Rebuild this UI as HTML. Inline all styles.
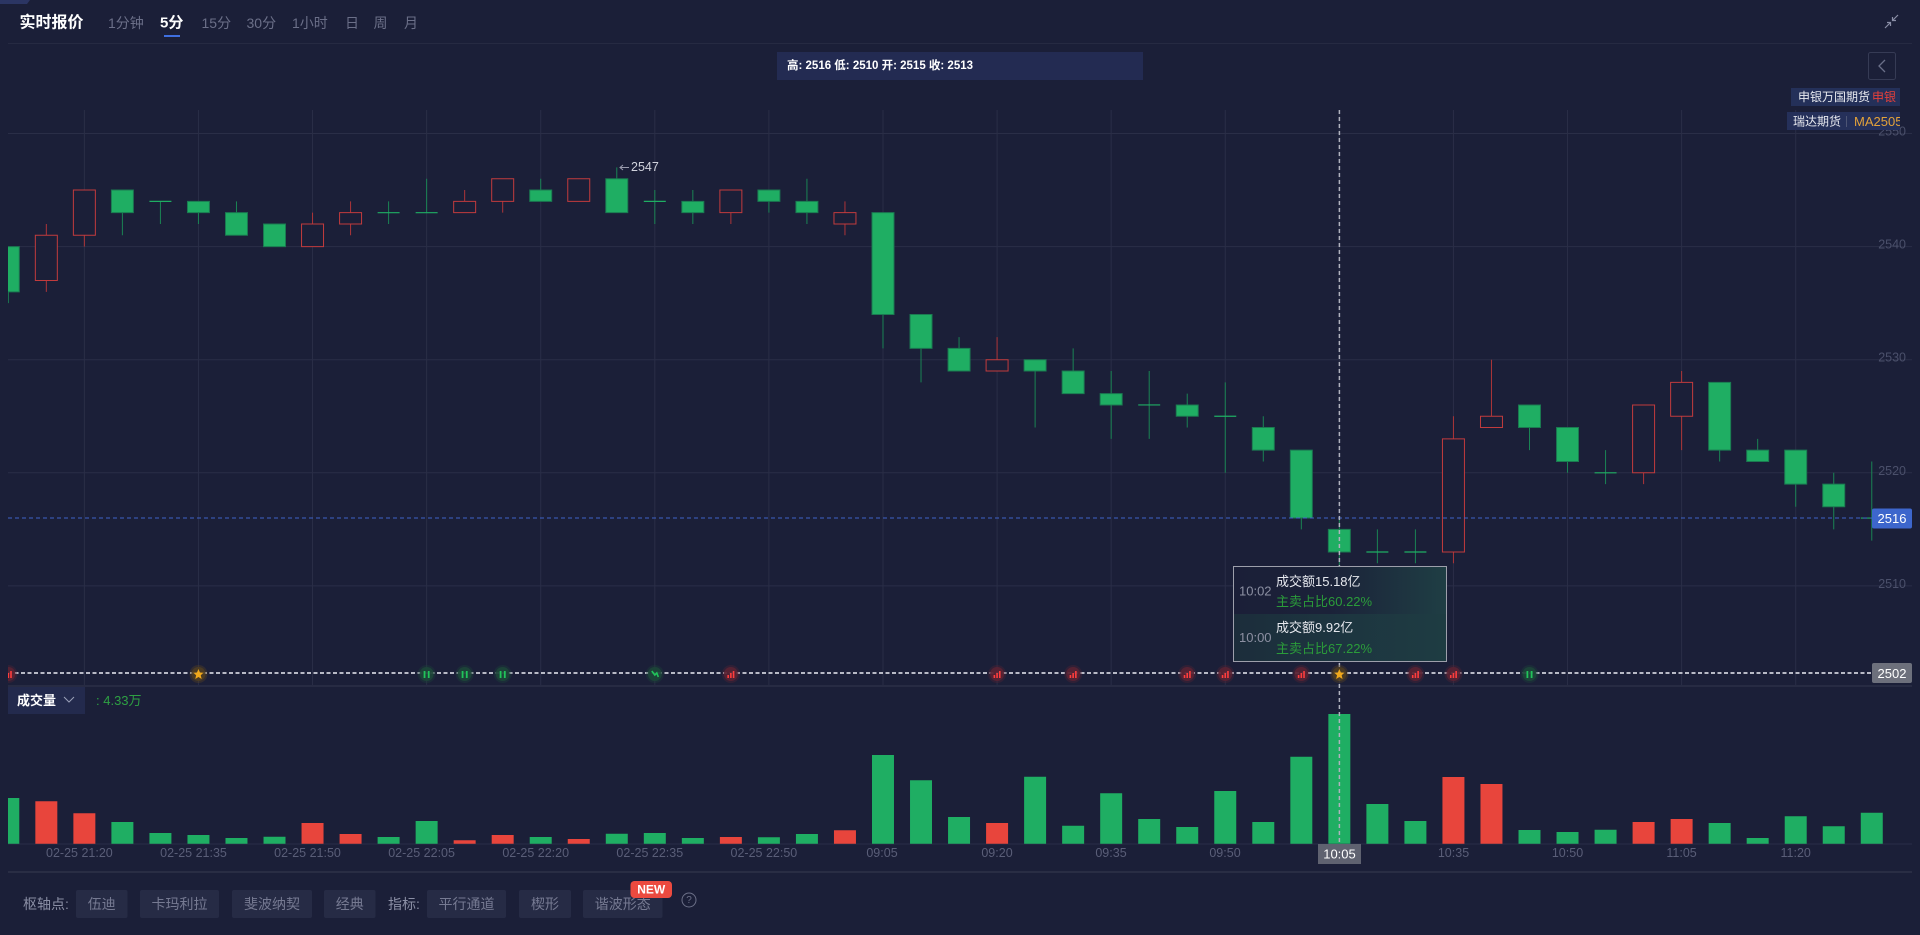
<!DOCTYPE html>
<html><head><meta charset="utf-8">
<style>
html,body{margin:0;padding:0;background:#1b1f38;width:1920px;height:935px;overflow:hidden}
svg{display:block}
text{font-family:"Liberation Sans","Noto Sans CJK SC",sans-serif}
</style></head><body>
<svg width="1920" height="935" viewBox="0 0 1920 935" xmlns="http://www.w3.org/2000/svg">
<defs>
<clipPath id="chart"><rect x="8" y="100" width="1904" height="760"/></clipPath>
<clipPath id="lbl"><rect x="1700" y="80" width="200" height="60"/></clipPath>
<linearGradient id="tt1" x1="0" x2="1" y1="0" y2="0"><stop offset="0" stop-color="#1b1f38"/><stop offset="0.45" stop-color="#1b2239"/><stop offset="1" stop-color="#1f3e44"/></linearGradient>
<linearGradient id="tt2" x1="0" x2="1" y1="0" y2="0"><stop offset="0" stop-color="#1c2d3b"/><stop offset="0.5" stop-color="#1d3540"/><stop offset="1" stop-color="#1e3c42"/></linearGradient>
</defs>
<rect width="1920" height="935" fill="#1b1f38"/>

<!-- top bar -->
<polygon points="0,0 30,0 27,4 0,4" fill="#2b3563"/>
<text x="19.5" y="23" dominant-baseline="central" font-size="16" font-weight="bold" fill="#ffffff">实时报价</text>
<g font-size="14" fill="#6b6f88" dominant-baseline="central">
<text x="108" y="23">1分钟</text>
<text x="201.5" y="23">15分</text>
<text x="246.5" y="23">30分</text>
<text x="292" y="23">1小时</text>
<text x="345" y="23">日</text>
<text x="373.5" y="23">周</text>
<text x="404" y="23">月</text>
</g>
<text x="160" y="23" dominant-baseline="central" font-size="15" font-weight="bold" fill="#ffffff">5分</text>
<rect x="164" y="35" width="16" height="2" fill="#3f6fe0"/>
<line x1="8" y1="43.5" x2="1912" y2="43.5" stroke="#262a42" stroke-width="1"/>
<path d="M1898 15 L1892.5 20.5 M1892.5 17 V20.5 H1896 M1885 28 L1890.5 22.5 M1887 22.5 H1890.5 V26" stroke="#8a8ea6" stroke-width="1.2" fill="none"/>

<!-- info box -->
<rect x="777" y="52" width="366" height="28" fill="#232b52"/>
<text x="787" y="66" dominant-baseline="central" font-size="11.5" font-weight="bold" fill="#ffffff">高: 2516 低: 2510 开: 2515 收: 2513</text>

<!-- back button -->
<rect x="1868.5" y="52.5" width="27" height="27" rx="2" fill="none" stroke="#363b55"/>
<path d="M1885 60 L1879 66 L1885 72" stroke="#6a6f88" stroke-width="1.3" fill="none"/>

<!-- gridlines -->
<g stroke="#2a2e47" stroke-width="1">
<line x1="8" y1="133.5" x2="1912" y2="133.5"/>
<line x1="8" y1="246.6" x2="1912" y2="246.6"/>
<line x1="8" y1="359.7" x2="1912" y2="359.7"/>
<line x1="8" y1="472.8" x2="1912" y2="472.8"/>
<line x1="8" y1="585.9" x2="1912" y2="585.9"/>
<path d="M84.36 110V686 M198.45 110V686 M312.54 110V686 M426.63 110V686 M540.72 110V686 M654.81 110V686 M768.9 110V686 M882.99 110V686 M997.08 110V686 M1111.17 110V686 M1225.26 110V686 M1339.35 110V686 M1453.44 110V686 M1567.53 110V686 M1681.62 110V686 M1795.71 110V686"/>
</g>
<line x1="8" y1="686" x2="1912" y2="686" stroke="#272b43" stroke-width="2"/>
<line x1="8" y1="844" x2="1912" y2="844" stroke="#2a2e47" stroke-width="1"/>
<line x1="8" y1="872" x2="1912" y2="872" stroke="#2e3248" stroke-width="1.5"/>

<!-- axis labels -->
<g font-size="12.5" fill="#4b506b" text-anchor="end">
<text x="1906" y="135.5">2550</text>
<text x="1906" y="248.6">2540</text>
<text x="1906" y="361.7">2530</text>
<text x="1906" y="474.8">2520</text>
<text x="1906" y="587.9">2510</text>
</g>

<!-- candles -->
<g clip-path="url(#chart)">
<g transform="matrix(38.03 0 0 -11.31 -29.73 28974)">
<path vector-effect="non-scaling-stroke" stroke="#1a8454" stroke-width="1" fill="none" d="M1 2535V2540 M4 2541V2545 M5 2542V2544 M6 2542V2544 M7 2541V2544 M8 2540V2542 M11 2542V2544 M12 2543V2546 M15 2544V2546 M17 2543V2547 M18 2542V2545 M19 2542V2545 M21 2543V2545 M22 2542V2546 M24 2531V2543 M25 2528V2534 M26 2529V2532 M28 2524V2530 M29 2527V2531 M30 2523V2529 M31 2523V2529 M32 2524V2527 M33 2520V2528 M34 2521V2525 M35 2515V2522 M36 2510V2516 M37 2512V2515 M38 2512V2515 M41 2522V2526 M42 2520V2524 M43 2519V2522 M46 2521V2528 M47 2521V2523 M48 2517V2522 M49 2515V2520 M50 2514V2521"/>
<path vector-effect="non-scaling-stroke" stroke="#ad3538" stroke-width="1" fill="none" d="M2 2536V2542 M3 2540V2545 M9 2540V2543 M10 2541V2544 M13 2543V2545 M14 2543V2546 M16 2544V2546 M20 2542V2545 M23 2541V2544 M27 2529V2532 M39 2512V2525 M40 2524V2530 M44 2519V2526 M45 2522V2529"/>
<path vector-effect="non-scaling-stroke" stroke="#1b7a51" stroke-width="1" fill="#1fae63" d="M0.711 2536h0.578v4h-0.578z M3.711 2543h0.578v2h-0.578z M5.711 2543h0.578v1h-0.578z M6.711 2541h0.578v2h-0.578z M7.711 2540h0.578v2h-0.578z M14.711 2544h0.578v1h-0.578z M16.711 2543h0.578v3h-0.578z M18.711 2543h0.578v1h-0.578z M20.711 2544h0.578v1h-0.578z M21.711 2543h0.578v1h-0.578z M23.711 2534h0.578v9h-0.578z M24.711 2531h0.578v3h-0.578z M25.711 2529h0.578v2h-0.578z M27.711 2529h0.578v1h-0.578z M28.711 2527h0.578v2h-0.578z M29.711 2526h0.578v1h-0.578z M31.711 2525h0.578v1h-0.578z M33.711 2522h0.578v2h-0.578z M34.711 2516h0.578v6h-0.578z M35.711 2513h0.578v2h-0.578z M40.711 2524h0.578v2h-0.578z M41.711 2521h0.578v3h-0.578z M45.711 2522h0.578v6h-0.578z M46.711 2521h0.578v1h-0.578z M47.711 2519h0.578v3h-0.578z M48.711 2517h0.578v2h-0.578z"/>
<path vector-effect="non-scaling-stroke" stroke="#c23b3d" stroke-width="1" fill="#1b1f38" d="M1.711 2537h0.578v4h-0.578z M2.711 2541h0.578v4h-0.578z M8.711 2540h0.578v2h-0.578z M9.711 2542h0.578v1h-0.578z M12.711 2543h0.578v1h-0.578z M13.711 2544h0.578v2h-0.578z M15.711 2544h0.578v2h-0.578z M19.711 2543h0.578v2h-0.578z M22.711 2542h0.578v1h-0.578z M26.711 2529h0.578v1h-0.578z M38.711 2513h0.578v10h-0.578z M39.711 2524h0.578v1h-0.578z M43.711 2520h0.578v6h-0.578z M44.711 2525h0.578v3h-0.578z"/>
<path vector-effect="non-scaling-stroke" stroke="#1fae63" stroke-width="1.2" fill="none" d="M4.711 2544h0.578 M10.711 2543h0.578 M11.711 2543h0.578 M17.711 2544h0.578 M30.711 2526h0.578 M32.711 2525h0.578 M36.711 2513h0.578 M37.711 2513h0.578 M42.711 2520h0.578 M49.711 2516h0.578"/>
</g>

<!-- volume -->
<g transform="matrix(38.03 0 0 1 -29.73 0)">
<path fill="#1fae63" d="M0.711 798h0.578V843.7h-0.578z M3.711 822h0.578V843.7h-0.578z M4.711 833h0.578V843.7h-0.578z M5.711 835h0.578V843.7h-0.578z M6.711 838h0.578V843.7h-0.578z M7.711 836.7h0.578V843.7h-0.578z M10.711 837h0.578V843.7h-0.578z M11.711 821h0.578V843.7h-0.578z M14.711 837h0.578V843.7h-0.578z M16.711 833.7h0.578V843.7h-0.578z M17.711 833h0.578V843.7h-0.578z M18.711 838h0.578V843.7h-0.578z M20.711 837.3h0.578V843.7h-0.578z M21.711 834h0.578V843.7h-0.578z M23.711 755h0.578V843.7h-0.578z M24.711 780.3h0.578V843.7h-0.578z M25.711 817h0.578V843.7h-0.578z M27.711 776.7h0.578V843.7h-0.578z M28.711 825.7h0.578V843.7h-0.578z M29.711 793.3h0.578V843.7h-0.578z M30.711 819h0.578V843.7h-0.578z M31.711 827h0.578V843.7h-0.578z M32.711 791h0.578V843.7h-0.578z M33.711 822h0.578V843.7h-0.578z M34.711 756.7h0.578V843.7h-0.578z M35.711 714h0.578V843.7h-0.578z M36.711 804h0.578V843.7h-0.578z M37.711 821h0.578V843.7h-0.578z M40.711 830h0.578V843.7h-0.578z M41.711 832h0.578V843.7h-0.578z M42.711 829.7h0.578V843.7h-0.578z M45.711 823h0.578V843.7h-0.578z M46.711 838h0.578V843.7h-0.578z M47.711 816.3h0.578V843.7h-0.578z M48.711 826.3h0.578V843.7h-0.578z M49.711 812.7h0.578V843.7h-0.578z"/>
<path fill="#e8453c" d="M1.711 801.3h0.578V843.7h-0.578z M2.711 813.3h0.578V843.7h-0.578z M8.711 823h0.578V843.7h-0.578z M9.711 834h0.578V843.7h-0.578z M12.711 840.3h0.578V843.7h-0.578z M13.711 835h0.578V843.7h-0.578z M15.711 839h0.578V843.7h-0.578z M19.711 837h0.578V843.7h-0.578z M22.711 830.3h0.578V843.7h-0.578z M26.711 823h0.578V843.7h-0.578z M38.711 777h0.578V843.7h-0.578z M39.711 784h0.578V843.7h-0.578z M43.711 822h0.578V843.7h-0.578z M44.711 819h0.578V843.7h-0.578z"/>
</g>
</g>

<!-- high label -->
<path d="M629 167.5 H620 M623 165 L620 167.5 L623 170" stroke="#9a9cae" stroke-width="1" fill="none"/>
<text x="631" y="167" dominant-baseline="central" font-size="12.5" fill="#d0d2dc">2547</text>

<!-- current price line -->
<line x1="8" y1="518" x2="1872" y2="518" stroke="#3f63c8" stroke-width="1" stroke-dasharray="4 3"/>

<!-- crosshair -->
<line x1="1339.4" y1="110" x2="1339.4" y2="844" stroke="#b0b2be" stroke-width="1.5" stroke-dasharray="4 3"/>
<line x1="8" y1="673" x2="1872" y2="673" stroke="#b8bac6" stroke-width="2" stroke-dasharray="4 2.5"/>

<!-- markers -->
<g clip-path="url(#chart)">
<g transform="translate(8.3,674)"><circle r="9" fill="#5a2233" opacity="0.35"/><circle r="7" fill="#5a2233" opacity="0.9"/><path d="M-3.5 4h1.6v-3h-1.6z M-0.8 4h1.6v-5h-1.6z M1.9 4h1.6v-7h-1.6z" fill="#ff3d3d"/></g>
</g>
<g transform="translate(198.45,674)"><circle r="9" fill="#5e4520" opacity="0.35"/><circle r="7" fill="#4e3d22" opacity="0.9"/><polygon points="0,-5 1.5,-1.5 5,-1.2 2.3,1.2 3.2,5 0,3 -3.2,5 -2.3,1.2 -5,-1.2 -1.5,-1.5" fill="#f0a81c"/></g>
<g transform="translate(426.63,674)"><circle r="9" fill="#1d4638" opacity="0.35"/><circle r="7" fill="#1d4638" opacity="0.9"/><path d="M-3 4h1.8v-7h-1.8z M1.2 4h1.8v-7h-1.8z" fill="#21c45a"/></g>
<g transform="translate(464.66,674)"><circle r="9" fill="#1d4638" opacity="0.35"/><circle r="7" fill="#1d4638" opacity="0.9"/><path d="M-3 4h1.8v-7h-1.8z M1.2 4h1.8v-7h-1.8z" fill="#21c45a"/></g>
<g transform="translate(502.69,674)"><circle r="9" fill="#1d4638" opacity="0.35"/><circle r="7" fill="#1d4638" opacity="0.9"/><path d="M-3 4h1.8v-7h-1.8z M1.2 4h1.8v-7h-1.8z" fill="#21c45a"/></g>
<g transform="translate(654.81,674)"><circle r="9" fill="#1d4638" opacity="0.35"/><circle r="7" fill="#1d4638" opacity="0.9"/><path d="M-3 -3 L0 1 L2 -1 L3.5 3" stroke="#21c45a" stroke-width="1.6" fill="none"/></g>
<g transform="translate(730.87,674)"><circle r="9" fill="#5a2233" opacity="0.35"/><circle r="7" fill="#5a2233" opacity="0.9"/><path d="M-3.5 4h1.6v-3h-1.6z M-0.8 4h1.6v-5h-1.6z M1.9 4h1.6v-7h-1.6z" fill="#ff3d3d"/></g>
<g transform="translate(997.08,674)"><circle r="9" fill="#5a2233" opacity="0.35"/><circle r="7" fill="#5a2233" opacity="0.9"/><path d="M-3.5 4h1.6v-3h-1.6z M-0.8 4h1.6v-5h-1.6z M1.9 4h1.6v-7h-1.6z" fill="#ff3d3d"/></g>
<g transform="translate(1073.14,674)"><circle r="9" fill="#5a2233" opacity="0.35"/><circle r="7" fill="#5a2233" opacity="0.9"/><path d="M-3.5 4h1.6v-3h-1.6z M-0.8 4h1.6v-5h-1.6z M1.9 4h1.6v-7h-1.6z" fill="#ff3d3d"/></g>
<g transform="translate(1187.23,674)"><circle r="9" fill="#5a2233" opacity="0.35"/><circle r="7" fill="#5a2233" opacity="0.9"/><path d="M-3.5 4h1.6v-3h-1.6z M-0.8 4h1.6v-5h-1.6z M1.9 4h1.6v-7h-1.6z" fill="#ff3d3d"/></g>
<g transform="translate(1225.26,674)"><circle r="9" fill="#5a2233" opacity="0.35"/><circle r="7" fill="#5a2233" opacity="0.9"/><path d="M-3.5 4h1.6v-3h-1.6z M-0.8 4h1.6v-5h-1.6z M1.9 4h1.6v-7h-1.6z" fill="#ff3d3d"/></g>
<g transform="translate(1301.32,674)"><circle r="9" fill="#5a2233" opacity="0.35"/><circle r="7" fill="#5a2233" opacity="0.9"/><path d="M-3.5 4h1.6v-3h-1.6z M-0.8 4h1.6v-5h-1.6z M1.9 4h1.6v-7h-1.6z" fill="#ff3d3d"/></g>
<g transform="translate(1339.35,674)"><circle r="9" fill="#5e4520" opacity="0.35"/><circle r="7" fill="#4e3d22" opacity="0.9"/><polygon points="0,-5 1.5,-1.5 5,-1.2 2.3,1.2 3.2,5 0,3 -3.2,5 -2.3,1.2 -5,-1.2 -1.5,-1.5" fill="#f0a81c"/></g>
<g transform="translate(1415.41,674)"><circle r="9" fill="#5a2233" opacity="0.35"/><circle r="7" fill="#5a2233" opacity="0.9"/><path d="M-3.5 4h1.6v-3h-1.6z M-0.8 4h1.6v-5h-1.6z M1.9 4h1.6v-7h-1.6z" fill="#ff3d3d"/></g>
<g transform="translate(1453.44,674)"><circle r="9" fill="#5a2233" opacity="0.35"/><circle r="7" fill="#5a2233" opacity="0.9"/><path d="M-3.5 4h1.6v-3h-1.6z M-0.8 4h1.6v-5h-1.6z M1.9 4h1.6v-7h-1.6z" fill="#ff3d3d"/></g>
<g transform="translate(1529.5,674)"><circle r="9" fill="#1d4638" opacity="0.35"/><circle r="7" fill="#1d4638" opacity="0.9"/><path d="M-3 4h1.8v-7h-1.8z M1.2 4h1.8v-7h-1.8z" fill="#21c45a"/></g>

<!-- price tags -->
<rect x="1872" y="508.5" width="40" height="20" rx="2" fill="#3d66cc"/>
<text x="1892" y="518.5" dominant-baseline="central" text-anchor="middle" font-size="13" fill="#ffffff">2516</text>
<rect x="1872" y="663" width="40" height="20" rx="2" fill="#6d707c"/>
<text x="1892" y="673.5" dominant-baseline="central" text-anchor="middle" font-size="13" fill="#ffffff">2502</text>

<!-- tooltip -->
<rect x="1233.5" y="566.5" width="213" height="47.5" fill="url(#tt1)"/>
<rect x="1233.5" y="614" width="213" height="47.5" fill="url(#tt2)"/>
<rect x="1233.5" y="566.5" width="213" height="95" fill="none" stroke="#9d9fab" stroke-width="1"/>
<g font-size="13" dominant-baseline="central">
<text x="1239" y="591" fill="#8c90a2">10:02</text>
<text x="1276" y="581.7" fill="#e6e8ee">成交额15.18亿</text>
<text x="1276" y="601.7" fill="#2b9c3a">主卖占比60.22%</text>
<text x="1239" y="637.7" fill="#8c90a2">10:00</text>
<text x="1276" y="627.7" fill="#e6e8ee">成交额9.92亿</text>
<text x="1276" y="648.3" fill="#2b9c3a">主卖占比67.22%</text>
</g>

<!-- top right labels -->
<g clip-path="url(#lbl)">
<rect x="1791" y="88" width="109" height="18" fill="#243059"/>
<text x="1798" y="97" dominant-baseline="central" font-size="12" fill="#e8eaf0">申银万国期货</text>
<text x="1872" y="97" dominant-baseline="central" font-size="12" fill="#e8403a">申银</text>
<rect x="1787" y="112" width="113" height="18" fill="#25305a"/>
<text x="1793" y="121.5" dominant-baseline="central" font-size="12" fill="#e8eaf0">瑞达期货</text>
<rect x="1846" y="116" width="1" height="11" fill="#4d5575"/>
<text x="1854" y="121.5" dominant-baseline="central" font-size="13" fill="#e3a23a">MA2505</text>
</g>

<!-- volume label -->
<rect x="8" y="687" width="77" height="27" fill="#232a4d"/>
<text x="17" y="700.5" dominant-baseline="central" font-size="13" font-weight="bold" fill="#ffffff">成交量</text>
<path d="M64 697 L69 702 L74 697" stroke="#9aa0b8" stroke-width="1" fill="none"/>
<text x="96" y="700.5" dominant-baseline="central" font-size="13" fill="#2ea043">: 4.33万</text>

<!-- time axis -->
<g font-size="12.5" fill="#5a5e78" text-anchor="middle" dominant-baseline="central">
<text x="79.4" y="853">02-25 21:20</text>
<text x="193.5" y="853">02-25 21:35</text>
<text x="307.5" y="853">02-25 21:50</text>
<text x="421.6" y="853">02-25 22:05</text>
<text x="535.7" y="853">02-25 22:20</text>
<text x="649.8" y="853">02-25 22:35</text>
<text x="763.9" y="853">02-25 22:50</text>
<text x="882" y="853">09:05</text>
<text x="997" y="853">09:20</text>
<text x="1111" y="853">09:35</text>
<text x="1225" y="853">09:50</text>
<text x="1453.5" y="853">10:35</text>
<text x="1567.5" y="853">10:50</text>
<text x="1681.6" y="853">11:05</text>
<text x="1795.7" y="853">11:20</text>
</g>
<rect x="1318" y="844" width="43" height="20" fill="#5f6270"/>
<text x="1339.5" y="854" text-anchor="middle" dominant-baseline="central" font-size="13" fill="#ffffff">10:05</text>

<!-- toolbar -->
<g font-size="14" dominant-baseline="central">
<text x="23" y="904" fill="#8b8fa5">枢轴点:</text>
<text x="388" y="904" fill="#8b8fa5">指标:</text>
</g>
<g fill="#262b45">
<rect x="76" y="890" width="51.5" height="28" rx="2"/>
<rect x="140" y="890" width="79" height="28" rx="2"/>
<rect x="232" y="890" width="80" height="28" rx="2"/>
<rect x="324" y="890" width="51.5" height="28" rx="2"/>
<rect x="427" y="890" width="79" height="28" rx="2"/>
<rect x="519" y="890" width="52" height="28" rx="2"/>
<rect x="583" y="890" width="79.5" height="28" rx="2"/>
</g>
<g font-size="14" fill="#767a92" text-anchor="middle" dominant-baseline="central">
<text x="101.75" y="904">伍迪</text>
<text x="179.5" y="904">卡玛利拉</text>
<text x="272" y="904">斐波纳契</text>
<text x="349.75" y="904">经典</text>
<text x="466.5" y="904">平行通道</text>
<text x="545" y="904">楔形</text>
<text x="622.75" y="904">谐波形态</text>
</g>
<rect x="630.5" y="881" width="41.5" height="17" rx="4" fill="#ec4a3f"/>
<text x="651.25" y="889.5" text-anchor="middle" dominant-baseline="central" font-size="12" font-weight="bold" fill="#ffffff">NEW</text>
<circle cx="689" cy="900" r="7" fill="none" stroke="#6c7088" stroke-width="1"/>
<text x="689" y="900.5" text-anchor="middle" dominant-baseline="central" font-size="10" fill="#6c7088">?</text>
</svg>
</body></html>
